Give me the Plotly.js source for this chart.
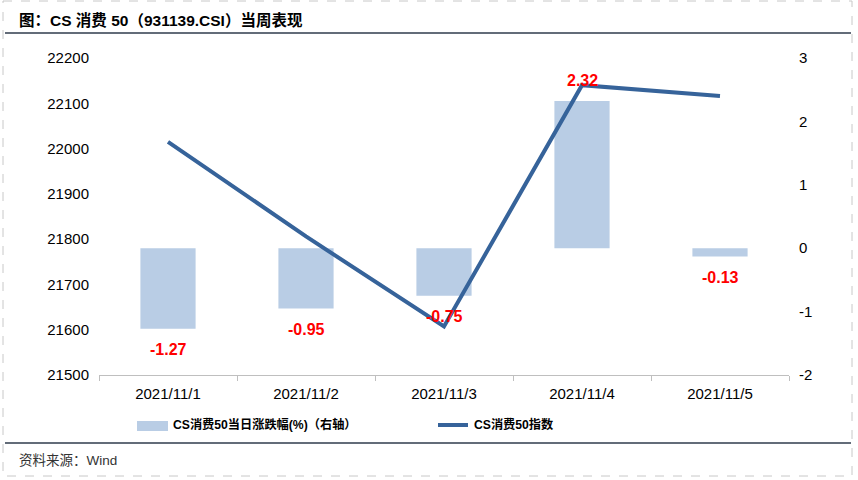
<!DOCTYPE html>
<html>
<head>
<meta charset="utf-8">
<script src="https://cdn.plot.ly/plotly-3.0.1.min.js"></script>
<style>html,body{margin:0;padding:0;background:#fff;}#chart{width:858px;height:480px;}</style>
</head>
<body>
<div id="chart"></div>
<script>
// ---- data ----
const dates = ["2021/11/1", "2021/11/2", "2021/11/3", "2021/11/4", "2021/11/5"];
const dailyChange = [-1.27, -0.95, -0.75, 2.32, -0.13];   // % (right axis)
const indexClose = [22015, 21806, 21607, 22140, 22116];     // CS消费50指数 (left axis)
const leftTicks = [21500, 21600, 21700, 21800, 21900, 22000, 22100, 22200];
const rightTicks = [-2, -1, 0, 1, 2, 3];
const barName = "CS消费50当日涨跌幅(%)（右轴）";
const lineName = "CS消费50指数";
const titleText = "图：CS 消费 50（931139.CSI）当周表现";
const sourceText = "资料来源：Wind";

// ---- layout geometry ----
const W = 858, H = 480;
const L = 99, R = 789, T = 58, B = 375;
const px = x => (x - L) / (R - L);
const py = y => (B - y) / (B - T);
const FONT = "Liberation Sans, Arial, Noto Sans CJK SC, sans-serif";
const barColor = "#b9cde5";
const lineColor = "#36639a";

const traces = [
  {
    type: "bar", x: dates, y: dailyChange, yaxis: "y",
    marker: {color: barColor}, width: 0.4, name: barName,
    hoverinfo: "skip"
  },
  {
    type: "scatter", mode: "lines", x: dates, y: indexClose, yaxis: "y2",
    line: {color: lineColor, width: 4}, name: lineName, hoverinfo: "skip"
  }
];

const annotations = dailyChange.map((v, i) => ({
  x: dates[i], y: v, xref: "x", yref: "y",
  text: v.toFixed(2), showarrow: false,
  yshift: v >= 0 ? 21 : -21,
  xanchor: "center", yanchor: "middle",
  font: {family: FONT, size: 16, color: "#ff0000", weight: "bold"}
}));

annotations.push(
  {xref: "paper", yref: "paper", x: px(17), y: py(20), xanchor: "left", yanchor: "middle",
   text: "<b>" + titleText + "</b>", showarrow: false,
   font: {family: FONT, size: 15.5, color: "#000"}},
  {xref: "paper", yref: "paper", x: px(17), y: py(460), xanchor: "left", yanchor: "middle",
   text: sourceText, showarrow: false,
   font: {family: FONT, size: 13.5, color: "#333"}},
  {xref: "paper", yref: "paper", x: px(171), y: py(425), xanchor: "left", yanchor: "middle",
   text: "<b>" + barName + "</b>", showarrow: false,
   font: {family: FONT, size: 12.2, color: "#000"}},
  {xref: "paper", yref: "paper", x: px(472), y: py(425), xanchor: "left", yanchor: "middle",
   text: "<b>" + lineName + "</b>", showarrow: false,
   font: {family: FONT, size: 12.2, color: "#000"}}
);

const shapes = [
  // outer dashed frame
  {type: "rect", xref: "paper", yref: "paper", x0: px(3), x1: px(852), y0: py(1), y1: py(476),
   line: {color: "#c8c8c8", width: 1, dash: "dash"}, layer: "below"},
  // title rule
  {type: "line", xref: "paper", yref: "paper", x0: px(5), x1: px(851), y0: py(33), y1: py(33),
   line: {color: "#2f3b4c", width: 1.5}},
  // footer rule
  {type: "line", xref: "paper", yref: "paper", x0: px(5), x1: px(851), y0: py(443), y1: py(443),
   line: {color: "#2f3b4c", width: 1.5}},
  // legend swatches
  {type: "rect", xref: "paper", yref: "paper", x0: px(137), x1: px(168), y0: py(421), y1: py(431),
   fillcolor: barColor, line: {width: 0}},
  {type: "line", xref: "paper", yref: "paper", x0: px(438), x1: px(468), y0: py(425), y1: py(425),
   line: {color: lineColor, width: 4}}
];

const layout = {
  width: W, height: H,
  margin: {l: L, r: W - R, t: T, b: H - B, pad: 0},
  paper_bgcolor: "#fff", plot_bgcolor: "#fff",
  showlegend: false,
  bargap: 0.6,
  font: {family: FONT, size: 15, color: "#000"},
  xaxis: {
    type: "category", range: [-0.5, 4.5],
    showline: true, linecolor: "#bfbfbf", linewidth: 1,
    ticks: "outside", tickson: "boundaries", ticklen: 5, tickcolor: "#bfbfbf",
    showgrid: false, zeroline: false, ticklabelstandoff: 5,
    tickfont: {family: FONT, size: 15, color: "#000"}
  },
  yaxis: {
    side: "right", range: [-2, 3], tickvals: rightTicks, ticktext: rightTicks.map(String),
    showgrid: false, zeroline: false, showline: false, ticks: "",
    ticklabelstandoff: 9,
    tickfont: {family: FONT, size: 15, color: "#000"}
  },
  yaxis2: {
    side: "left", overlaying: "y", anchor: "x",
    range: [21500, 22200], tickvals: leftTicks, ticktext: leftTicks.map(String),
    showgrid: false, zeroline: false, showline: false, ticks: "",
    ticklabelstandoff: 9,
    tickfont: {family: FONT, size: 15, color: "#000"}
  },
  annotations: annotations,
  shapes: shapes
};

Plotly.newPlot("chart", traces, layout, {staticPlot: true, displayModeBar: false});
</script>
</body>
</html>
